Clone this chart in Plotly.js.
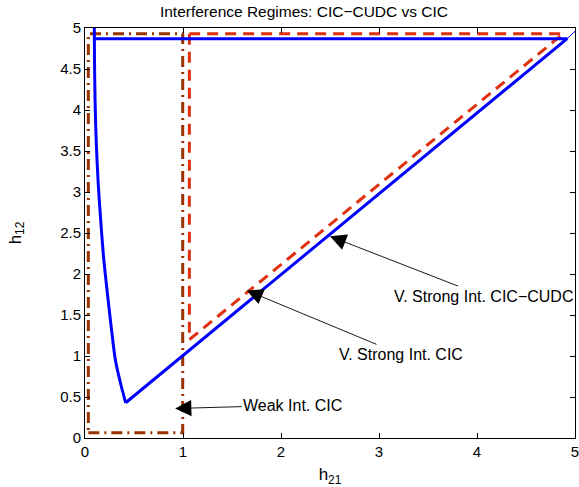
<!DOCTYPE html>
<html>
<head>
<meta charset="utf-8">
<script src="https://cdn.plot.ly/plotly-3.0.1.min.js"></script>
<style>html,body{margin:0;padding:0;background:#fff;}#chart{width:579px;height:487px;}</style>
</head>
<body>
<div id="chart"></div>
<script>
// Weak interference region, CIC (brown dash-dot)
const weakH21 = [0.034, 0.997, 0.997, 0.034, 0.034];
const weakH12 = [0.065, 0.065, 4.93, 4.93, 0.065];
// Very strong interference region, CIC (red dashed)
const cicH21 = [1.065, 1.065, 4.88, 1.065];
const cicH12 = [4.93, 1.2, 4.93, 4.93];
// Very strong interference region, CIC-CUDC (blue solid): curved lower-left boundary
const cudcCurveH21 = [0.095, 0.097, 0.103, 0.115, 0.135, 0.16, 0.19, 0.225, 0.265, 0.31, 0.36, 0.415];
const cudcCurveH12 = [5.0, 4.6, 4.1, 3.6, 3.1, 2.66, 2.2, 1.8, 1.38, 0.95, 0.68, 0.43];
// straight boundaries of the CIC-CUDC region
const cudcEdgeH21 = [0.415, 4.92, 0.095];
const cudcEdgeH12 = [0.43, 4.87, 4.87];
const cudcTailH21 = [4.92, 5.0];
const cudcTailH12 = [4.87, 4.96];

// Annotation labels, arrow targets and label centres
const labels = ["Weak Int. CIC", "V. Strong Int. CIC", "V. Strong Int. CIC\u2212CUDC"];
const headH21 = [0.92, 1.65, 2.5];
const headH12 = [0.36, 1.8, 2.46];
const textH21 = [2.12, 3.22, 4.07];
const textH12 = [0.40, 1.02, 1.73];

const fam = "Liberation Sans, Arial, Helvetica, sans-serif";
const font = {family: fam, size: 15, color: "#000"};
const noteFont = {family: fam, size: 16, color: "#000"};

const traces = [
  {x: weakH21, y: weakH12, mode: "lines", line: {color: "#993300", width: 3, dash: "11px,5px,2px,5px"}, hoverinfo: "skip"},
  {x: cicH21, y: cicH12, mode: "lines", line: {color: "#e0300f", width: 3, dash: "11px,7px"}, hoverinfo: "skip"},
  {x: cudcCurveH21, y: cudcCurveH12, mode: "lines", line: {color: "#0000ff", width: 3, shape: "spline", smoothing: 0.8}, hoverinfo: "skip"},
  {x: cudcEdgeH21, y: cudcEdgeH12, mode: "lines", line: {color: "#0000ff", width: 3}, hoverinfo: "skip"},
  {x: cudcTailH21, y: cudcTailH12, mode: "lines", line: {color: "#0000ff", width: 1}, hoverinfo: "skip"}
];

const annotations = labels.map((t, i) => ({
  x: headH21[i], y: headH12[i], xref: "x", yref: "y",
  ax: textH21[i], ay: textH12[i], axref: "x", ayref: "y",
  text: t, showarrow: true, arrowhead: 2, arrowsize: 3.6, arrowwidth: 0.9,
  arrowcolor: "#000", font: noteFont, xanchor: "center", yanchor: "middle"
}));

const layout = {
  width: 579, height: 487,
  margin: {l: 85, r: 4, t: 28, b: 49},
  paper_bgcolor: "#fff", plot_bgcolor: "#fff",
  showlegend: false,
  font: font,
  title: {text: "Interference Regimes: CIC\u2212CUDC vs CIC", x: 0.525, xanchor: "center", y: 0.988, yanchor: "top", font: {family: fam, size: 15.5, color: "#000"}},
  xaxis: {
    range: [0, 5], dtick: 1, tick0: 0, ticks: "inside", ticklen: 5, tickcolor: "#000",
    showline: true, linecolor: "#000", linewidth: 1, mirror: "ticks", showgrid: false, zeroline: false,
    ticklabeloverflow: "allow",
    tickfont: font, title: {text: "h<sub>21</sub>", font: {family: fam, size: 17, color: "#000"}, standoff: 10}
  },
  yaxis: {
    range: [0, 5], dtick: 0.5, tick0: 0, ticks: "inside", ticklen: 5, tickcolor: "#000",
    showline: true, linecolor: "#000", linewidth: 1, mirror: "ticks", showgrid: false, zeroline: false,
    ticklabeloverflow: "allow",
    tickfont: font, title: {text: "h<sub>12</sub>", font: {family: fam, size: 17, color: "#000"}, standoff: 34}
  },
  annotations: annotations
};

Plotly.newPlot("chart", traces, layout, {displayModeBar: false, staticPlot: true});
</script>
</body>
</html>
